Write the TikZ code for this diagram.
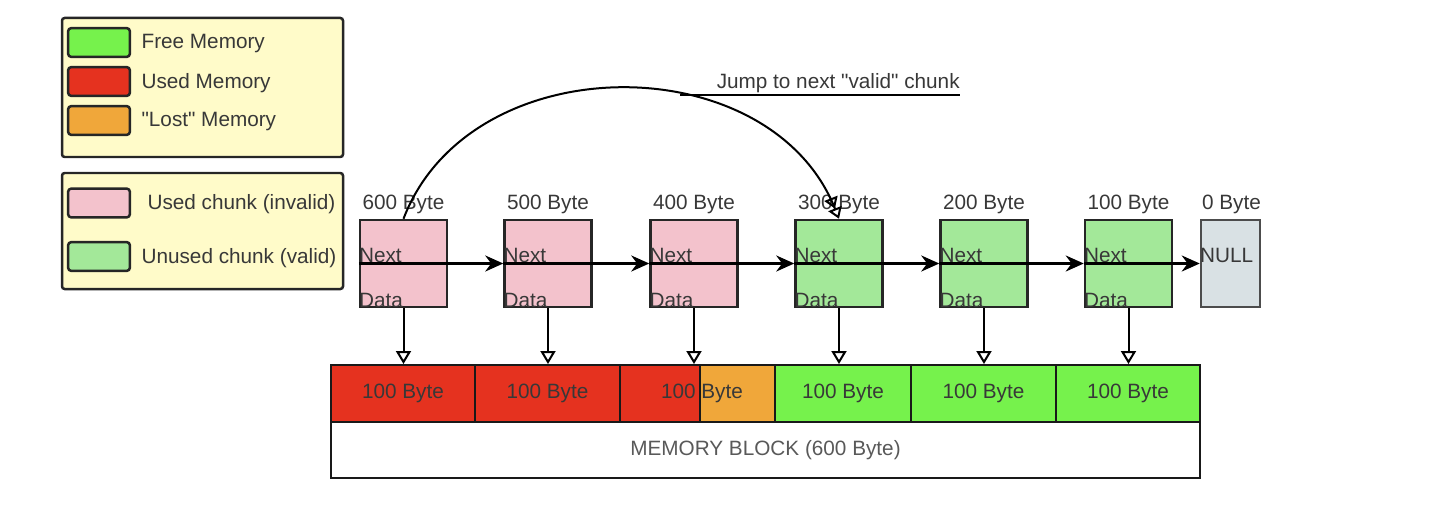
\documentclass[tikz,border=0pt]{standalone}
\usepackage{fontspec}
\setmainfont{Liberation Sans}[Ligatures=TeXOff]
\usetikzlibrary{arrows.meta,positioning}
\definecolor{freemem}{HTML}{76F24C}
\definecolor{usedmem}{HTML}{E5321F}
\definecolor{lostmem}{HTML}{F0A73A}
\definecolor{usedchunk}{HTML}{F3C2CC}
\definecolor{validchunk}{HTML}{A3E899}
\definecolor{nullchunk}{HTML}{D9E1E4}
\definecolor{legendbg}{HTML}{FFFBC9}
\tikzset{
	legendbox/.style={draw=black!85, fill=legendbg, line width=0.5mm, rounded corners=1.5pt},
	swatch/.style={draw=black!85, line width=0.5mm, rounded corners=2pt, minimum width=1.24cm, minimum height=0.58cm, inner sep=0},
	legtext/.style={inner sep=0, anchor=west, yshift=-0.03cm},
	chunkbox/.style={draw=black!85, line width=0.5mm, minimum width=1.74cm, minimum height=1.74cm, inner sep=0},
	memseg/.style={draw=black!90, line width=0.4mm, minimum height=1.14cm, inner sep=0},
	fieldtext/.style={inner sep=0, anchor=south west},
	bytetext/.style={inner sep=0, anchor=south, yshift=0.1cm},
	nextptr/.style={line width=0.5mm, -{Stealth[length=0.36cm, width=0.32cm]}},
	dataptr/.style={line width=0.4mm, -{Triangle[open, length=0.26cm, width=0.3cm]}},
	jumpptr/.style={line width=0.4mm, -{Triangle[open, length=0.22cm, width=0.28cm]Triangle[open, length=0.22cm, width=0.28cm]}}
}

\begin{document}
\begin{tikzpicture}[x=0.02cm, y=-0.02cm, font=\fontsize{11.8}{14}\selectfont, text=black!78]
			%%%%% START %%%%%
			
			\useasboundingbox (0, 0) rectangle (1451, 510);
			
			% legend: memory
			\draw[legendbox] (62, 18) rectangle (343, 157);
			\node[swatch, fill=freemem] (swfree) at (99, 42.5) {};
			\node[legtext, right=0.2cm of swfree] (txfree) {Free Memory};
			\node[swatch, fill=usedmem] (swused) at (99, 81.5) {};
			\node[legtext, right=0.2cm of swused] (txused) {Used Memory};
			\node[swatch, fill=lostmem] (swlost) at (99, 120.5) {};
			\node[legtext, right=0.2cm of swlost] (txlost) {"Lost" Memory};
			
			% legend: chunks
			\draw[legendbox] (62, 173) rectangle (343, 289);
			\node[swatch, fill=usedchunk] (swinvalid) at (99, 203) {};
			\node[legtext, right=0.32cm of swinvalid] (txinvalid) {Used chunk (invalid)};
			\node[swatch, fill=validchunk] (swvalid) at (99, 256.5) {};
			\node[legtext, right=0.2cm of swvalid] (txvalid) {Unused chunk (valid)};
			
			% chunks
			\node[chunkbox, fill=usedchunk] (c1) at (403.5, 263.5) {};
			\node[chunkbox, fill=usedchunk] (c2) at (548, 263.5) {};
			\node[chunkbox, fill=usedchunk] (c3) at (694, 263.5) {};
			\node[chunkbox, fill=validchunk] (c4) at (839, 263.5) {};
			\node[chunkbox, fill=validchunk] (c5) at (984, 263.5) {};
			\node[chunkbox, fill=validchunk] (c6) at (1128.5, 263.5) {};
			\node[chunkbox, fill=nullchunk, draw=black!70, minimum width=1.18cm] (cnull) at (1230.5, 263.5) {};
			
			\node[bytetext] (b1) at (c1.north) {600 Byte};
			\node[bytetext] (b2) at (c2.north) {500 Byte};
			\node[bytetext] (b3) at (c3.north) {400 Byte};
			\node[bytetext] (b4) at (c4.north) {300 Byte};
			\node[bytetext] (b5) at (c5.north) {200 Byte};
			\node[bytetext] (b6) at (c6.north) {100 Byte};
			\node[bytetext, anchor=south west] (bnull) at ([xshift=0.04cm]cnull.north west) {0 Byte};
			
			\node[fieldtext] (n1) at (c1.west) {Next};
			\node[fieldtext] (n2) at (c2.west) {Next};
			\node[fieldtext] (n3) at (c3.west) {Next};
			\node[fieldtext] (n4) at (c4.west) {Next};
			\node[fieldtext] (n5) at (c5.west) {Next};
			\node[fieldtext] (n6) at (c6.west) {Next};
			\node[fieldtext] (nnull) at (cnull.west) {NULL};
			
			\node[fieldtext] (d1) at (c1.south west) {Data};
			\node[fieldtext] (d2) at (c2.south west) {Data};
			\node[fieldtext] (d3) at (c3.south west) {Data};
			\node[fieldtext] (d4) at (c4.south west) {Data};
			\node[fieldtext] (d5) at (c5.south west) {Data};
			\node[fieldtext] (d6) at (c6.south west) {Data};
			
			% next pointers
			\draw[nextptr] (c1.west) -- (c2.west);
			\draw[nextptr] (c2.west) -- (c3.west);
			\draw[nextptr] (c3.west) -- (c4.west);
			\draw[nextptr] (c4.west) -- (c5.west);
			\draw[nextptr] (c5.west) -- (c6.west);
			\draw[nextptr] (c6.west) -- (cnull.west);
			
			% memory block
			\node[memseg, fill=usedmem, minimum width=2.88cm] (m1) at (403, 393.5) {100 Byte};
			\node[memseg, fill=usedmem, minimum width=2.9cm] (m2) at (547.5, 393.5) {100 Byte};
			\node[memseg, fill=usedmem, minimum width=1.6cm] (m3) at (660, 393.5) {};
			\node[memseg, fill=lostmem, minimum width=1.5cm] (m4) at (737.5, 393.5) {};
			\node[inner sep=0] (m34) at ([xshift=0.02cm]m3.east) {100 Byte};
			\node[memseg, fill=freemem, minimum width=2.72cm] (m5) at (843, 393.5) {100 Byte};
			\node[memseg, fill=freemem, minimum width=2.9cm] (m6) at (983.5, 393.5) {100 Byte};
			\node[memseg, fill=freemem, minimum width=2.88cm] (m7) at (1128, 393.5) {100 Byte};
			\node[memseg, fill=white, minimum width=17.38cm, minimum height=1.12cm, text=black!65] (block) at (765.5, 450) {MEMORY BLOCK (600 Byte)};
			
			% data pointers
			\draw[dataptr] (c1.south) -- (c1.south |- m1.north);
			\draw[dataptr] (c2.south) -- (c2.south |- m2.north);
			\draw[dataptr] (c3.south) -- (c3.south |- m3.north);
			\draw[dataptr] (c4.south) -- (c4.south |- m5.north);
			\draw[dataptr] (c5.south) -- (c5.south |- m6.north);
			\draw[dataptr] (c6.south) -- (c6.south |- m7.north);
			
			% jump over the invalid chunks
			\draw[jumpptr] (c1.north) .. controls (470, 45) and (770, 45) .. (c4.north);
			\coordinate (jmp) at (680, 95);
			\node[inner sep=0, anchor=base east] (jumptxt) at (960, 89) {Jump to next "valid" chunk};
			\draw[line width=0.35mm] (jmp) -- (jmp -| jumptxt.east);
			
			%%%%% END %%%%%
\end{tikzpicture}
\end{document}
